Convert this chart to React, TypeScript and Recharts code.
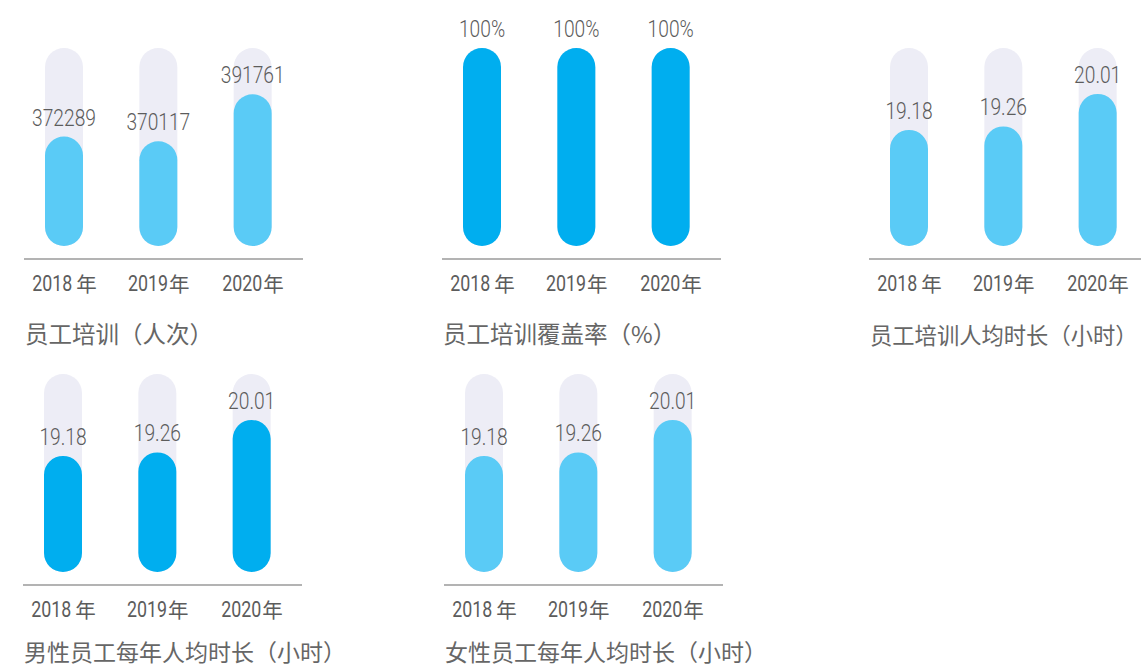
import React from "react";
import { Bar, BarChart, LabelList, XAxis, YAxis } from "recharts";

const years = ["2018 年", "2019年", "2020年"];
const trainingCount = [372289, 370117, 391761];
const coverageRate = [100, 100, 100];
const avgHours = [19.18, 19.26, 20.01];
const maleAvgHours = [19.18, 19.26, 20.01];
const femaleAvgHours = [19.18, 19.26, 20.01];

const LIGHT = "#5ACBF6";
const DARK = "#00AEEF";
const TRACK = "#EDEDF6";
const TEXT = "#5c5c5c";
const NUM_FONT = "Roboto, 'Noto Sans', sans-serif";
const CJK_FONT = "'Noto Sans CJK SC', sans-serif";

const PLOT_W = 279;
const PLOT_H = 211;
const TOP = 48;

// condensed digits + separate 年 glyph
const YearTick = ({ x, y, payload }: any) => {
  const label: string = payload.value;
  const digits = label.slice(0, 4);
  const spaced = label.charAt(4) === " ";
  const digitW = 41;
  const gap = spaced ? 3 : 0;
  const cjkW = 20;
  const x0 = x - (digitW + gap + cjkW) / 2;
  const base = y + 32;
  return (
    <g>
      <text
        transform={`translate(${x0},${base}) scale(0.81,1)`}
        fill={TEXT}
        fontSize={22}
        fontFamily={NUM_FONT}
      >
        {digits}
      </text>
      <text x={x0 + digitW + gap} y={base + 1} fill={TEXT} fontSize={20.5} fontFamily={CJK_FONT}>
        年
      </text>
    </g>
  );
};

interface PanelProps {
  values: number[];
  domain: [number, number];
  color: string;
  title: string;
  titleSize?: number;
  suffix?: string;
  left: number;
  top: number;
  titleTop: number;
}

function Panel({ values, domain, color, title, titleSize = 23.5, suffix = "", left, top, titleTop }: PanelProps) {
  const data = years.map((y, i) => ({ year: y, value: values[i], cap: domain[1] }));
  return (
    <>
      <div style={{ position: "absolute", left: left - 10, top }}>
        <BarChart
          width={PLOT_W + 20}
          height={TOP + PLOT_H + 40}
          data={data}
          margin={{ top: TOP, right: 10, left: 10, bottom: 0 }}
          barSize={38}
          barGap={-38}
        >
          <XAxis
            dataKey="year"
            axisLine={{ stroke: "#9a9a9a", strokeWidth: 1.5 }}
            tickLine={false}
            tickSize={0}
            tickMargin={0}
            height={40}
            padding={{ left: -7, right: 3 }}
            tick={<YearTick />}
          />
          <YAxis hide domain={domain} padding={{ top: 0, bottom: 13 }} allowDataOverflow />
          <Bar dataKey="cap" fill={TRACK} radius={19} isAnimationActive={false} />
          <Bar dataKey="value" fill={color} radius={19} isAnimationActive={false}>
            <LabelList
              dataKey="value"
              content={(p: any) => (
                <text
                  transform={`translate(${Number(p.x) + Number(p.width) / 2},${Number(p.y) - 11}) scale(0.8,1)`}
                  textAnchor="middle"
                  fill={TEXT}
                  fontSize={24}
                  fontWeight={300}
                  fontFamily={NUM_FONT}
                >
                  {String(p.value) + suffix}
                </text>
              )}
            />
          </Bar>
        </BarChart>
      </div>
      <div
        style={{
          position: "absolute",
          left: left + 1,
          top: titleTop,
          fontFamily: CJK_FONT,
          fontSize: titleSize,
          color: "#666",
          whiteSpace: "nowrap",
          lineHeight: "26px",
        }}
      >
        {title}
      </div>
    </>
  );
}

export default function App() {
  return (
    <div
      style={{
        position: "absolute",
        left: 0,
        top: 0,
        width: 1141,
        height: 671,
        overflow: "hidden",
        background: "#fff",
      }}
    >
      <Panel values={trainingCount} domain={[322000, 413000]} color={LIGHT} title="员工培训（人次）" left={24} top={0} titleTop={320} />
      <Panel values={coverageRate} domain={[0, 100]} color={DARK} title="员工培训覆盖率（%）" suffix="%" left={442} top={0} titleTop={320} />
      <Panel values={avgHours} domain={[16.5, 21.07]} color={LIGHT} title="员工培训人均时长（小时）" titleSize={22.3} left={869} top={0} titleTop={321} />
      <Panel values={maleAvgHours} domain={[16.5, 21.07]} color={DARK} title="男性员工每年人均时长（小时）" titleSize={23} left={23} top={326} titleTop={638} />
      <Panel values={femaleAvgHours} domain={[16.5, 21.07]} color={LIGHT} title="女性员工每年人均时长（小时）" titleSize={23} left={444} top={326} titleTop={638} />
    </div>
  );
}
